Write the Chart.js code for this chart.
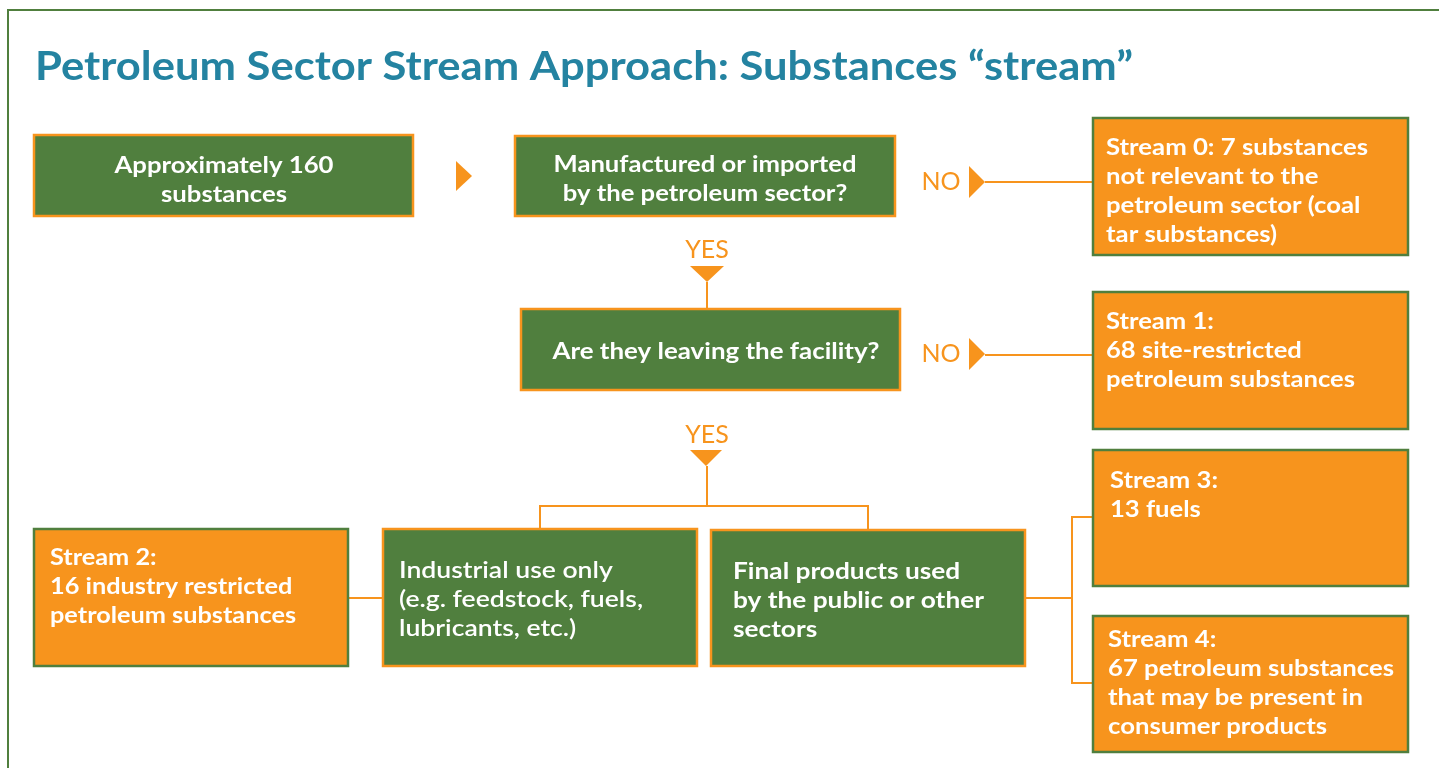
<!DOCTYPE html>
<html>
<head>
<meta charset="utf-8">
<title>Petroleum Sector Stream Approach</title>
<script src="https://cdn.jsdelivr.net/npm/chart.js@4.4.0/dist/chart.umd.min.js"></script>
<style>
    html, body { margin: 0; padding: 0; background: #ffffff; }
    #wrap { width: 1439px; height: 768px; }
</style>
</head>
<body>
<div id="wrap"><canvas id="flow" width="1439" height="768"></canvas></div>
<script>
    // --- chart content ---
    var chartTitle = 'Petroleum Sector Stream Approach: Substances \u201cstream\u201d';
    var totalSubstances = 160;
    var streamIds = [0, 1, 2, 3, 4];
    var streamCounts = [7, 68, 16, 13, 67];
    var streamText = [
        ['Stream 0: 7 substances', 'not relevant to the', 'petroleum sector (coal', 'tar substances)'],
        ['Stream 1:', '68 site-restricted', 'petroleum substances'],
        ['Stream 2:', '16 industry restricted', 'petroleum substances'],
        ['Stream 3:', '13 fuels'],
        ['Stream 4:', '67 petroleum substances', 'that may be present in', 'consumer products']
    ];
    var stepText = [
        ['Approximately 160', 'substances'],
        ['Manufactured or imported', 'by the petroleum sector?'],
        ['Are they leaving the facility?'],
        ['Industrial use only', '(e.g. feedstock, fuels,', 'lubricants, etc.)'],
        ['Final products used', 'by the public or other', 'sectors']
    ];
    var answerLabels = ['NO', 'NO', 'YES', 'YES'];

    // --- layout (diagram units = pixels of the 1439x768 page) ---
    var GREEN = '#507f3e';
    var ORANGE = '#f7941d';
    var TEAL = '#2483a1';

    var stepBoxes = [
        { x0: 34, y0: 135, x1: 413, y1: 216, align: 'center', textX: 224, textY: 166, fit: 219 },
        { x0: 515, y0: 136, x1: 895, y1: 216, align: 'center', textX: 705, textY: 165, fit: 303 },
        { x0: 521, y0: 309, x1: 900, y1: 390, align: 'center', textX: 716, textY: 352, fit: 327 },
        { x0: 383, y0: 529, x1: 697, y1: 666, align: 'left', textX: 399, textY: 571, fit: 244, weight: 600 },
        { x0: 711, y0: 530, x1: 1025, y1: 666, align: 'left', textX: 733, textY: 572, fit: 251 }
    ];
    var streamBoxes = [
        { x0: 1093, y0: 118, x1: 1408, y1: 255, textX: 1106, textY: 148, fit: 262 },
        { x0: 1093, y0: 292, x1: 1408, y1: 429, textX: 1106, textY: 322, fit: 249 },
        { x0: 34, y0: 529, x1: 348, y1: 666, textX: 50, textY: 558, fit: 246 },
        { x0: 1093, y0: 450, x1: 1408, y1: 586, textX: 1110, textY: 481, fit: 108 },
        { x0: 1093, y0: 616, x1: 1408, y1: 752, textX: 1108, textY: 640, fit: 286 }
    ];
    var answerSpots = [
        { x: 941, y: 182 }, { x: 941, y: 354 }, { x: 707, y: 250 }, { x: 707, y: 435 }
    ];
    var connectors = [
        [{ x: 985, y: 182 }, { x: 1093, y: 182 }],
        [{ x: 985, y: 355 }, { x: 1093, y: 355 }],
        [{ x: 707, y: 282 }, { x: 707, y: 309 }],
        [{ x: 707, y: 466 }, { x: 707, y: 506 }],
        [{ x: 540, y: 530 }, { x: 540, y: 506 }, { x: 868, y: 506 }, { x: 868, y: 530 }],
        [{ x: 348, y: 598 }, { x: 383, y: 598 }],
        [{ x: 1025, y: 598 }, { x: 1072, y: 598 }],
        [{ x: 1093, y: 517 }, { x: 1072, y: 517 }, { x: 1072, y: 683 }, { x: 1093, y: 683 }]
    ];
    // arrow heads: tip point, direction, length along direction, half width
    var arrows = [
        { x: 472, y: 176, dir: 'right', len: 16, half: 15 },
        { x: 985, y: 182, dir: 'right', len: 16, half: 16 },
        { x: 985, y: 354, dir: 'right', len: 16, half: 16 },
        { x: 707, y: 282, dir: 'down', len: 16, half: 17 },
        { x: 706, y: 466, dir: 'down', len: 16, half: 16 }
    ];

    var LINE_HEIGHT = 29;

    function drawLines(ctx, lines, x, y, align, fit, weight) {
        ctx.save();
        ctx.font = (weight || 700) + ' 22px Lato';
        var widest = 0;
        lines.forEach(function(line) {
            widest = Math.max(widest, ctx.measureText(line).width);
        });
        var scaleX = fit / widest;
        ctx.translate(x, y);
        ctx.scale(scaleX, 1);
        ctx.fillStyle = '#ffffff';
        ctx.textAlign = align;
        ctx.textBaseline = 'middle';
        lines.forEach(function(line, i) {
            ctx.fillText(line, 0, i * LINE_HEIGHT);
        });
        ctx.restore();
    }

    var flowPlugin = {
        id: 'flowchart',
        afterDatasetsDraw: function(chart) {
            var ctx = chart.ctx;
            var sx = chart.scales.x;
            var sy = chart.scales.y;
            var X = function(v) { return sx.getPixelForValue(v); };
            var Y = function(v) { return sy.getPixelForValue(v); };

            // frame
            ctx.save();
            ctx.strokeStyle = GREEN;
            ctx.lineWidth = 2;
            ctx.beginPath();
            ctx.moveTo(X(8), Y(768));
            ctx.lineTo(X(8), Y(10));
            ctx.lineTo(X(1439), Y(10));
            ctx.stroke();

            // title
            ctx.font = '700 40px Lato';
            var tw = ctx.measureText(chartTitle).width;
            ctx.translate(X(35), Y(80));
            ctx.scale(1098 / tw, 1);
            ctx.fillStyle = TEAL;
            ctx.textBaseline = 'alphabetic';
            ctx.fillText(chartTitle, 0, 0);
            ctx.restore();

            // boxes
            function box(b, fill, stroke) {
                ctx.save();
                ctx.fillStyle = fill;
                ctx.strokeStyle = stroke;
                ctx.lineWidth = 2.5;
                var x0 = X(b.x0), y0 = Y(b.y0);
                ctx.fillRect(x0, y0, X(b.x1) - x0, Y(b.y1) - y0);
                ctx.strokeRect(x0, y0, X(b.x1) - x0, Y(b.y1) - y0);
                ctx.restore();
            }
            stepBoxes.forEach(function(b, i) {
                box(b, GREEN, ORANGE);
                drawLines(ctx, stepText[i], X(b.textX), Y(b.textY), b.align, b.fit, b.weight);
            });
            streamIds.forEach(function(id, i) {
                var b = streamBoxes[i];
                box(b, ORANGE, GREEN);
                drawLines(ctx, streamText[i], X(b.textX), Y(b.textY), 'left', b.fit);
            });

            // arrow heads
            ctx.save();
            ctx.fillStyle = ORANGE;
            arrows.forEach(function(a) {
                ctx.beginPath();
                if (a.dir === 'right') {
                    ctx.moveTo(X(a.x), Y(a.y));
                    ctx.lineTo(X(a.x - a.len), Y(a.y - a.half));
                    ctx.lineTo(X(a.x - a.len), Y(a.y + a.half));
                } else {
                    ctx.moveTo(X(a.x), Y(a.y));
                    ctx.lineTo(X(a.x - a.half), Y(a.y - a.len));
                    ctx.lineTo(X(a.x + a.half), Y(a.y - a.len));
                }
                ctx.closePath();
                ctx.fill();
            });

            // NO / YES
            ctx.font = '400 25px Lato';
            ctx.textAlign = 'center';
            ctx.textBaseline = 'middle';
            answerLabels.forEach(function(label, i) {
                ctx.fillText(label, X(answerSpots[i].x), Y(answerSpots[i].y));
            });
            ctx.restore();
        }
    };

    var connectorSets = connectors.map(function(points) {
        return {
            data: points,
            showLine: true,
            borderColor: ORANGE,
            borderWidth: 2,
            pointRadius: 0,
            tension: 0
        };
    });

    new Chart(document.getElementById('flow').getContext('2d'), {
        type: 'scatter',
        data: { datasets: connectorSets },
        options: {
            responsive: false,
            animation: false,
            devicePixelRatio: 1,
            layout: { padding: 0 },
            plugins: { legend: { display: false }, tooltip: { enabled: false } },
            scales: {
                x: { type: 'linear', min: 0, max: 1439, display: false },
                y: { type: 'linear', min: 0, max: 768, reverse: true, display: false }
            }
        },
        plugins: [flowPlugin]
    });
</script>
</body>
</html>
